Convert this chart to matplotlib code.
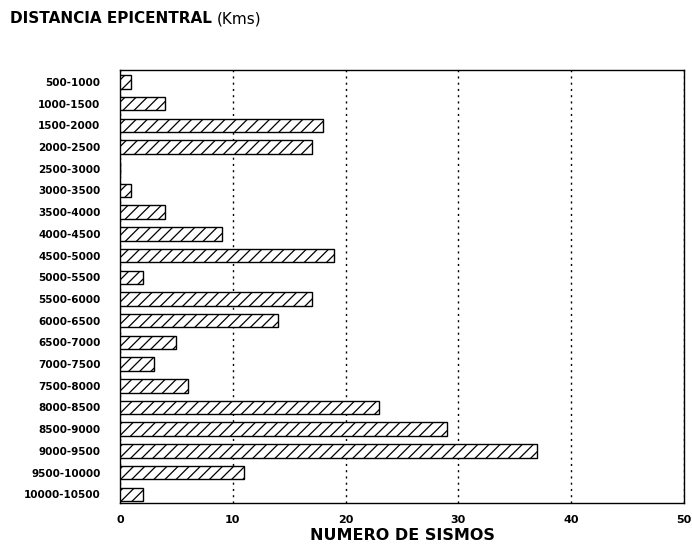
import matplotlib
matplotlib.use("Agg")
import matplotlib.pyplot as plt
import numpy as np

plt.rcParams['font.family'] = ['DejaVu Sans']
plt.rcParams['hatch.linewidth'] = 0.9

categories = ["500-1000", "1000-1500", "1500-2000", "2000-2500", "2500-3000",
              "3000-3500", "3500-4000", "4000-4500", "4500-5000", "5000-5500",
              "5500-6000", "6000-6500", "6500-7000", "7000-7500", "7500-8000",
              "8000-8500", "8500-9000", "9000-9500", "9500-10000", "10000-10500"]
values = [1, 4, 18, 17, 0, 1, 4, 9, 19, 2, 17, 14, 5, 3, 6, 23, 29, 37, 11, 2]
xticks = [0, 10, 20, 30, 40, 50]

fig = plt.figure(figsize=(6.92, 5.49), dpi=100)
ax = fig.add_axes([0.1734, 0.0838, 0.8150, 0.7887])

y = np.arange(len(categories))
ax.barh(y, values, height=0.62, color='white', edgecolor='black',
        linewidth=1.0, hatch='///', zorder=3)

ax.set_xlim(0, 50)
ax.set_ylim(19.4, -0.55)
ax.set_xticks(xticks)
ax.set_xticklabels([str(t) for t in xticks], fontsize=8, fontweight='bold')
ax.set_yticks(y)
ax.set_yticklabels(categories, fontsize=7.5, fontweight='bold')
ax.tick_params(axis='both', length=0)
ax.tick_params(axis='y', pad=14)
ax.tick_params(axis='x', pad=9)

ax.xaxis.grid(True, linestyle=(0, (1.5, 3)), color='black', linewidth=1.0, zorder=1)
for s in ax.spines.values():
    s.set_linewidth(1.0)

ax.set_xlabel("NUMERO DE SISMOS", fontsize=11.5, fontweight='bold', labelpad=2)

t1 = fig.text(10 / 692, 1 - 23 / 549, "DISTANCIA EPICENTRAL ", fontsize=11,
              fontweight='bold', ha='left', va='baseline')
fig.canvas.draw()
bb = t1.get_window_extent()
fig.text(bb.x1 / fig.bbox.width, 1 - 23 / 549, "(Kms)", fontsize=11,
         ha='left', va='baseline')

fig.savefig("out.png", dpi=100)
